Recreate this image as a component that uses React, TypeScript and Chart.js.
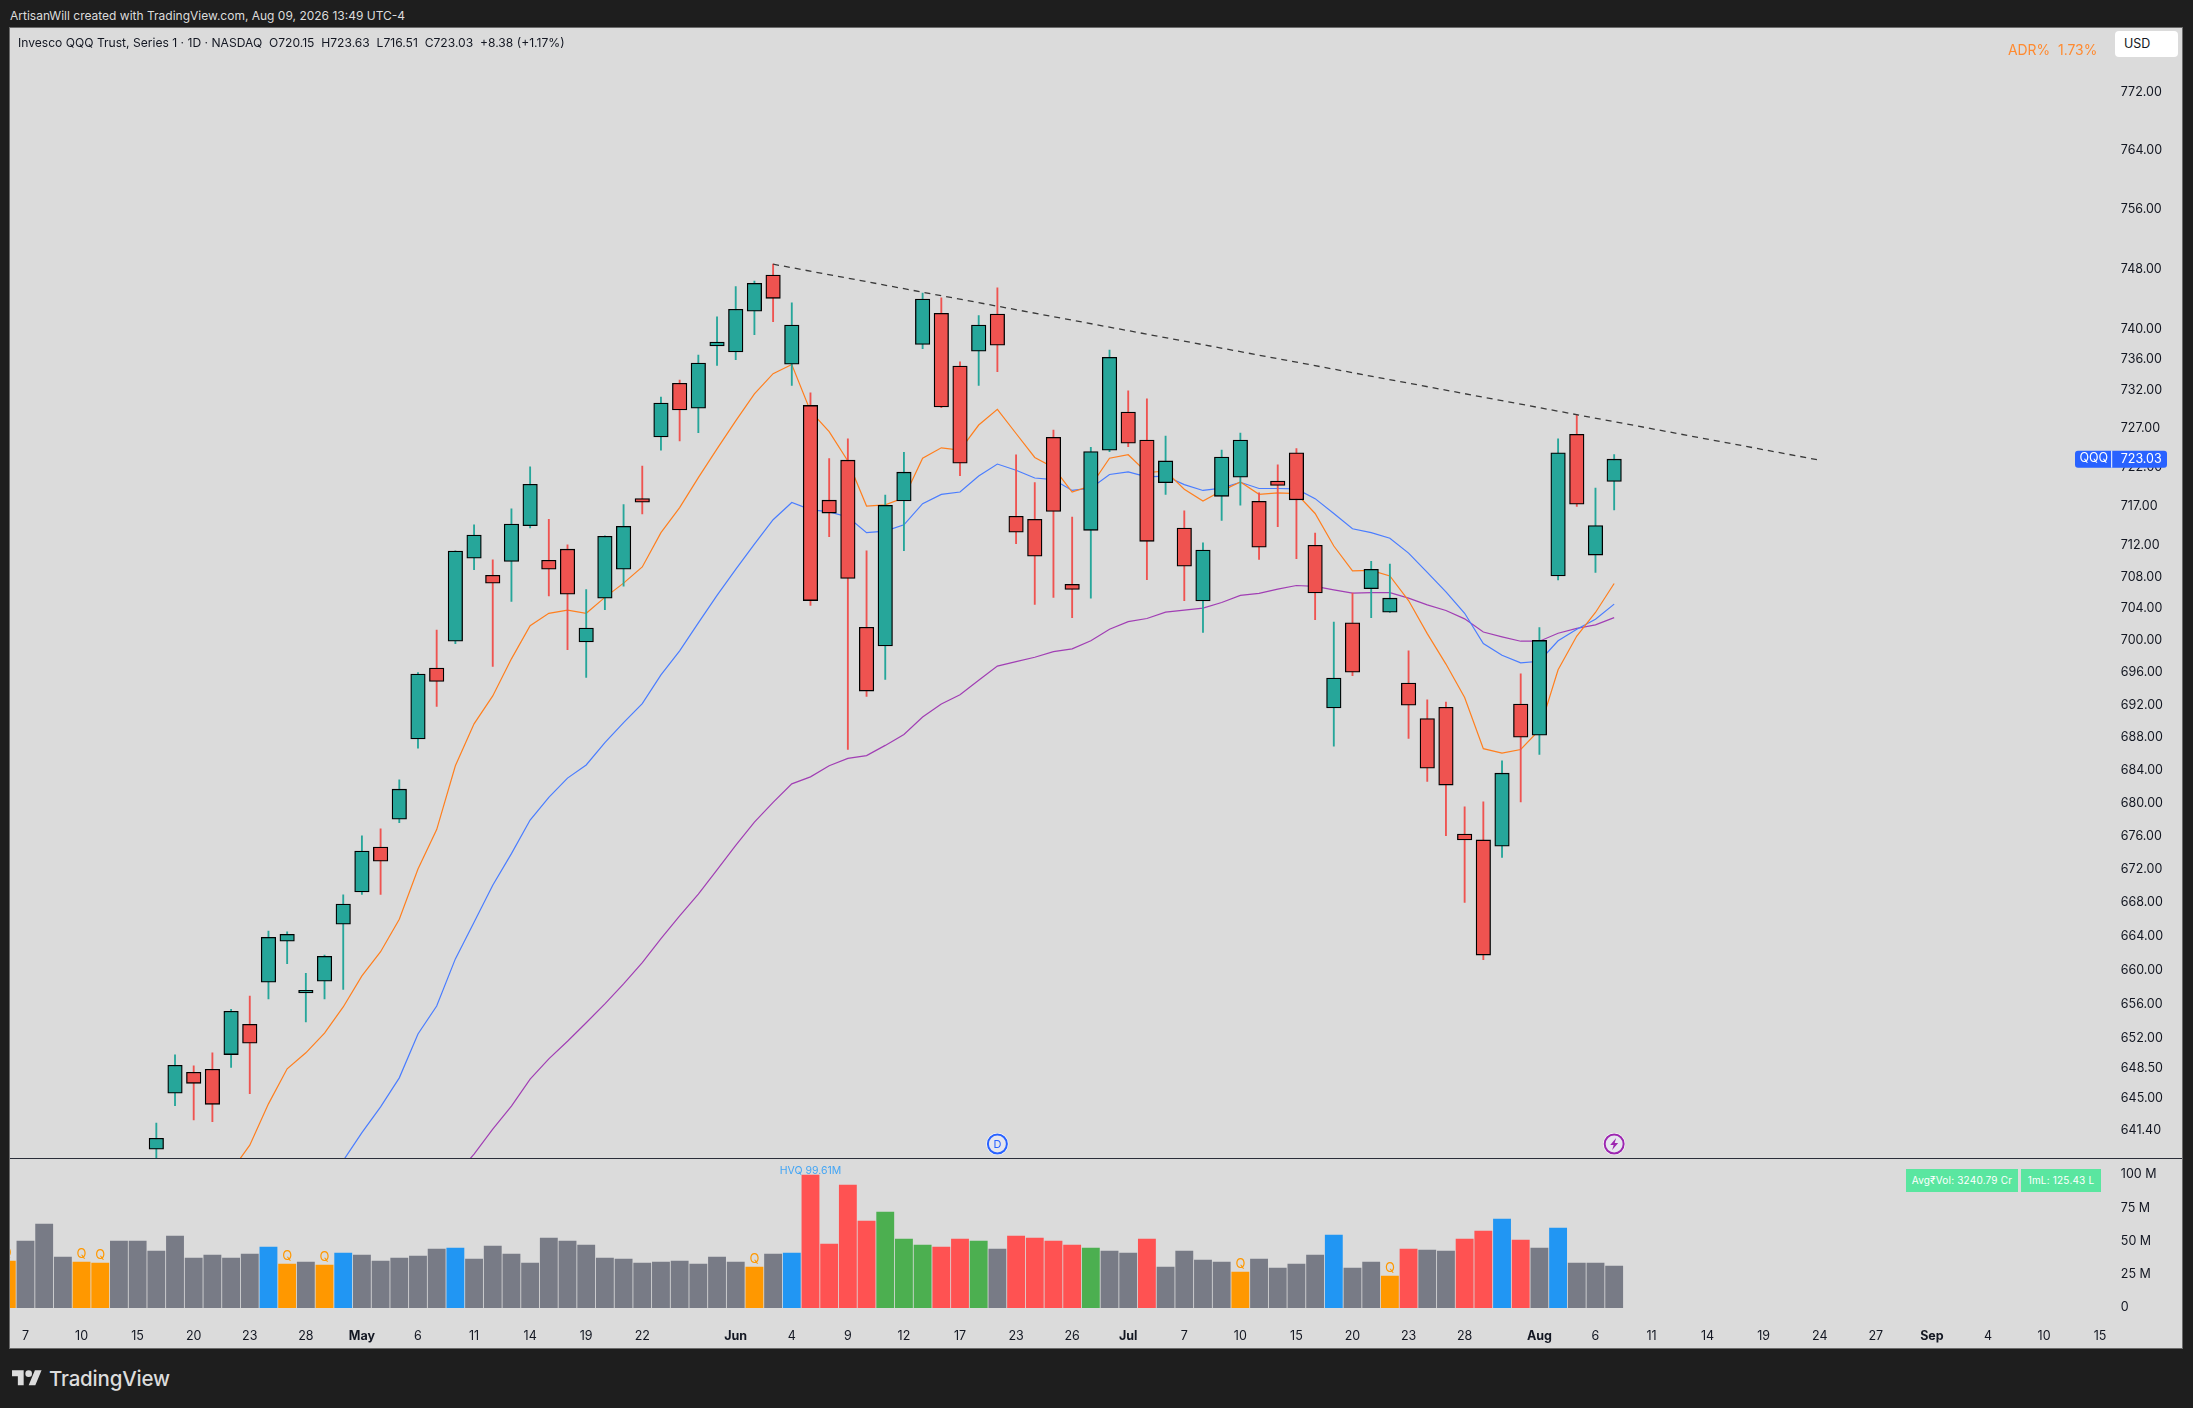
import { useEffect, useRef } from "react"
import { Chart, registerables } from "chart.js"

Chart.register(...registerables)

const dates = [
    'Apr 6', 'Apr 7', 'Apr 8', 'Apr 9', 'Apr 10', 'Apr 13', 'Apr 14', 'Apr 15', 'Apr 16', 'Apr 17', 'Apr 20', 'Apr 21', 'Apr 22', 'Apr 23', 'Apr 24', 'Apr 27', 'Apr 28', 'Apr 29', 'Apr 30',
    'May 1', 'May 4', 'May 5', 'May 6', 'May 7', 'May 8', 'May 11', 'May 12', 'May 13', 'May 14', 'May 15', 'May 18', 'May 19', 'May 20', 'May 21', 'May 22', 'May 26', 'May 27', 'May 28', 'May 29',
    'Jun 1', 'Jun 2', 'Jun 3', 'Jun 4', 'Jun 5', 'Jun 8', 'Jun 9', 'Jun 10', 'Jun 11', 'Jun 12', 'Jun 15', 'Jun 16', 'Jun 17', 'Jun 18', 'Jun 22', 'Jun 23', 'Jun 24', 'Jun 25', 'Jun 26', 'Jun 29', 'Jun 30',
    'Jul 1', 'Jul 2', 'Jul 6', 'Jul 7', 'Jul 8', 'Jul 9', 'Jul 10', 'Jul 13', 'Jul 14', 'Jul 15', 'Jul 16', 'Jul 17', 'Jul 20', 'Jul 21', 'Jul 22', 'Jul 23', 'Jul 24', 'Jul 27', 'Jul 28', 'Jul 29', 'Jul 30', 'Jul 31',
    'Aug 3', 'Aug 4', 'Aug 5', 'Aug 6', 'Aug 7', 'Aug 10', 'Aug 11', 'Aug 12', 'Aug 13', 'Aug 14', 'Aug 17', 'Aug 18', 'Aug 19', 'Aug 20', 'Aug 21', 'Aug 24', 'Aug 25', 'Aug 26', 'Aug 27', 'Aug 28', 'Aug 31',
    'Sep 1', 'Sep 2', 'Sep 3', 'Sep 4', 'Sep 8', 'Sep 9', 'Sep 10', 'Sep 11', 'Sep 14', 'Sep 15', 'Sep 16',
]

const tickDates = ['Apr 7', 'Apr 10', 'Apr 15', 'Apr 20', 'Apr 23', 'Apr 28', 'May 1', 'May 6', 'May 11', 'May 14', 'May 19', 'May 22', 'Jun 1', 'Jun 4', 'Jun 9', 'Jun 12', 'Jun 17', 'Jun 23', 'Jun 26', 'Jul 1', 'Jul 7', 'Jul 10', 'Jul 15', 'Jul 20', 'Jul 23', 'Jul 28', 'Aug 3', 'Aug 6', 'Aug 11', 'Aug 14', 'Aug 19', 'Aug 24', 'Aug 27', 'Sep 1', 'Sep 4', 'Sep 10', 'Sep 15']
const tickLabels = ['7', '10', '15', '20', '23', '28', 'May', '6', '11', '14', '19', '22', 'Jun', '4', '9', '12', '17', '23', '26', 'Jul', '7', '10', '15', '20', '23', '28', 'Aug', '6', '11', '14', '19', '24', '27', 'Sep', '4', '10', '15']
const monthLabels = ['May', 'Jun', 'Jul', 'Aug', 'Sep']

const priceTicks = [772, 764, 756, 748, 740, 736, 732, 727, 722, 717, 712, 708, 704, 700, 696, 692, 688, 684, 680, 676, 672, 668, 664, 660, 656, 652, 648.5, 645, 641.4]
const volumeTicks = [0, 25, 50, 75, 100]

// candles are visible from Apr 16 on, everything before sits under the pane
const firstCandle = 8
const opens = [639.2, 645.62, 648.05, 648.4, 650.1, 653.62, 658.55, 663.4, 657.3, 658.67, 665.4, 669.25, 674.64, 678, 687.8, 696.55, 699.9, 710.35, 708.2, 709.95, 714.5, 710.1, 711.5, 699.8, 705.3, 708.96, 717.95, 725.9, 732.9, 729.65, 737.8, 737, 742.4, 747.2, 735.4, 730, 717.75, 722.9, 701.65, 699.3, 717.65, 738, 742.1, 735.15, 737.1, 742, 715.7, 715.3, 725.85, 707.05, 713.9, 724.2, 729.15, 725.5, 720, 714.2, 704.95, 718.25, 720.7, 717.6, 720.2, 723.85, 712, 691.6, 702.2, 706.5, 703.55, 694.7, 690.3, 691.7, 676.2, 675.5, 674.75, 692.1, 688.25, 708.1, 726.25, 710.75, 720.15]
const closes = [640.46, 648.86, 646.77, 644.35, 655.15, 651.42, 663.85, 664.2, 657.6, 661.6, 667.8, 674.15, 672.95, 681.65, 695.8, 694.9, 711.25, 713.3, 707.2, 714.7, 719.8, 708.95, 705.8, 701.55, 713.15, 714.4, 717.5, 730.3, 729.4, 735.55, 738.3, 742.65, 746.1, 744.1, 740.55, 705, 716.1, 707.8, 693.7, 717.1, 721.35, 744, 729.8, 722.5, 740.55, 737.9, 713.65, 710.6, 716.3, 706.4, 724, 736.3, 725.1, 712.5, 722.8, 709.35, 711.4, 723.3, 725.5, 711.75, 719.65, 717.8, 705.95, 695.3, 696.05, 708.95, 705.3, 691.95, 684.2, 682.15, 675.5, 661.75, 683.6, 688, 700, 723.85, 717.25, 714.5, 723.03]
const highs = [642.2, 650.06, 648.78, 650.3, 655.38, 656.93, 664.6, 664.5, 659.6, 661.75, 668.9, 676, 676.85, 682.8, 696, 701.3, 711.3, 714.6, 710.15, 716.65, 722.05, 715.3, 712.05, 706.4, 713.2, 717.2, 722.15, 731.1, 733.3, 736.6, 741.65, 745.65, 746.4, 748.65, 743.5, 731.65, 723.1, 725.65, 711.3, 718.4, 723.9, 744.8, 744.15, 735.7, 741.8, 745.5, 723.6, 720, 726.8, 715.6, 724.55, 737.25, 731.9, 730.85, 726, 716.4, 712.3, 724.2, 726.4, 718.7, 722.3, 724.4, 713.55, 702.3, 705.95, 709.95, 709.6, 698.7, 692.6, 692.35, 679.5, 680.1, 685.1, 695.85, 701.6, 725.65, 728.8, 719.3, 723.63]
const lows = [637, 644.2, 642.55, 642.35, 648.6, 645.57, 656.6, 660.75, 653.9, 656.6, 657.7, 668.95, 668.95, 677.6, 686.65, 691.8, 699.6, 708.9, 696.75, 704.9, 714.2, 705.6, 698.85, 695.4, 703.85, 706.8, 716, 724.2, 725.4, 726.45, 735.25, 736, 739.3, 741, 732.6, 704.4, 713.1, 686.5, 693.05, 695.15, 711.3, 737.45, 729.7, 720.9, 732.6, 734.4, 712.2, 704.5, 705.4, 702.85, 705.3, 724, 724.65, 707.65, 718.5, 705, 701, 715.15, 717.1, 710.2, 714.35, 710.3, 702.6, 686.9, 695.6, 702.85, 703.5, 687.85, 682.6, 676, 668, 661.2, 673.4, 680.1, 685.9, 707.6, 716.95, 708.55, 716.51]

const firstOrange = 12
const orangeLine = [636.7, 639.66, 644.4, 648.45, 650.3, 652.6, 655.65, 659.3, 662.15, 666, 672, 676.75, 684.5, 689.65, 693.1, 697.7, 701.85, 703.4, 703.8, 703.4, 705.4, 707.2, 709.25, 713.6, 716.8, 720.65, 724.35, 728, 731.5, 734.15, 735.35, 729.25, 726.6, 722.8, 717, 717.15, 718.05, 723.15, 724.5, 724.2, 727.45, 729.5, 726.35, 723.25, 721.95, 718.8, 719.6, 723.15, 723.6, 721.3, 721.5, 719.15, 717.65, 718.95, 720.1, 718.5, 718.7, 718.6, 716.05, 711.9, 708.75, 708.8, 708.1, 705, 700.85, 697.05, 692.9, 686.6, 686.05, 686.5, 688.9, 696.35, 700.55, 703.5, 707.15]
const firstBlue = 18
const blueLine = [637.9, 641.1, 644.05, 647.4, 652.5, 655.75, 661.3, 665.65, 670.05, 673.85, 677.9, 680.65, 683, 684.6, 687.35, 689.8, 692.15, 695.7, 698.7, 702.2, 705.65, 708.95, 712.15, 715.25, 717.45, 716.55, 716.25, 715.6, 713.6, 713.8, 714.6, 717.3, 718.5, 718.8, 720.85, 722.4, 721.6, 720.6, 720.4, 719, 719.3, 721.05, 721.4, 720.75, 720.85, 719.75, 719, 719.3, 720.05, 719.25, 719.25, 719.2, 717.95, 716.05, 714.1, 713.6, 712.9, 711, 708.55, 706.1, 703.4, 699.6, 698.15, 697.2, 697.4, 699.95, 701.4, 702.65, 704.55]
const firstPurple = 24
const purpleLine = [636.15, 638.65, 641.5, 644.15, 647.25, 649.6, 651.65, 653.8, 656, 658.35, 660.85, 663.7, 666.4, 669, 671.9, 674.85, 677.65, 680.05, 682.3, 683.15, 684.5, 685.4, 685.75, 687, 688.35, 690.5, 692.1, 693.25, 695.05, 696.8, 697.35, 697.9, 698.6, 698.95, 699.95, 701.4, 702.35, 702.75, 703.55, 703.8, 704.05, 704.75, 705.65, 705.9, 706.45, 706.9, 706.8, 706.35, 705.95, 706, 706, 705.3, 704.45, 703.75, 702.7, 701.05, 700.45, 699.9, 699.9, 700.9, 701.5, 701.95, 702.85]

const trendDates = ['Jun 3', 'Aug 24']
const trendValues = [748.65, 722.9]

const volumes = [35, 50, 62.75, 38, 34.25, 33.5, 50, 50, 42.5, 53.75, 37.25, 39.5, 37.25, 40.25, 45.5, 32.75, 34.25, 32, 41, 39.5, 35, 37.25, 38.75, 44, 44.75, 36.5, 46.25, 40.25, 33.5, 52.25, 50, 47, 37.25, 36.5, 33.5, 34.25, 35, 32.75, 38, 34.25, 30.5, 40.25, 41, 99.61, 47.75, 92, 65, 71.75, 51.5, 47, 45.5, 51.5, 50, 44, 53.75, 52.25, 50, 47, 44.75, 42.5, 41, 51.5, 30.5, 42.5, 35.75, 34.25, 26.75, 36.5, 29.75, 32.75, 39.5, 54.5, 29.75, 34.25, 23.75, 44, 43.25, 42.5, 51.5, 57.5, 66.5, 50.75, 44.75, 59.75, 33.5, 33.5, 31.25]
// o quiet (Q), v plain, b blue, r down on volume, n up on volume
const volumeKinds = ['o', 'v', 'v', 'v', 'o', 'o', 'v', 'v', 'v', 'v', 'v', 'v', 'v', 'v', 'b', 'o', 'v', 'o', 'b', 'v', 'v', 'v', 'v', 'v', 'b', 'v', 'v', 'v', 'v', 'v', 'v', 'v', 'v', 'v', 'v', 'v', 'v', 'v', 'v', 'v', 'o', 'v', 'b', 'r', 'r', 'r', 'r', 'n', 'n', 'n', 'r', 'r', 'n', 'v', 'r', 'r', 'r', 'r', 'n', 'v', 'v', 'r', 'v', 'v', 'v', 'v', 'o', 'v', 'v', 'v', 'v', 'b', 'v', 'v', 'o', 'r', 'v', 'v', 'r', 'r', 'b', 'r', 'v', 'b', 'v', 'v', 'v']

const lastClose = 723.03
const hvqDate = 'Jun 4'
const dividendDate = 'Jun 22'
const earningsDate = 'Aug 7'

const TICK_FONT = 'Inter'
const INK = '#131722'
const kindColors: Record<string, string> = { o: '#FF9800', v: '#787B86', b: '#2196F3', r: '#FF5252', n: '#4CAF50' }

const fromIndex = (list: number[], first: number) => dates.map((_, i) => list[i - first] ?? null)
const upColor = (i: number, up: string, down: string) => closes[i] >= opens[i] ? up : down
const candleColors = dates.map((_, i) => i < firstCandle ? '#00000000' : upColor(i - firstCandle, '#26A69A', '#EF5350'))

// keeps the axes from shrinking the plot area for half a label height
const noAxisPadding = (scale: any) => {
    scale.paddingTop = 0
    scale.paddingBottom = 0
    scale.paddingLeft = 0
    scale.paddingRight = 0
}

const pricePlugin = {
    id: 'priceMarks',
    afterDraw(chart: any) {
        const { ctx, scales } = chart
        const y = scales.y.getPixelForValue(lastClose)
        ctx.save()
        // last price tag
        ctx.fillStyle = '#2962FF'
        ctx.beginPath()
        ctx.roundRect(2075, y - 8.5, 92, 17, 3)
        ctx.fill()
        ctx.fillStyle = '#ffffff'
        ctx.fillRect(2111.2, y - 8.5, 1, 17)
        ctx.font = `12.5px ${TICK_FONT}`
        ctx.textBaseline = 'middle'
        ctx.textAlign = 'left'
        ctx.fillText('QQQ', 2079.5, y - 0.5)
        ctx.fillText(lastClose.toFixed(2), 2120.7, y + 0.5)
        // dividend and earnings markers
        const markY = 1116
        const dx = scales.x.getPixelForValue(dates.indexOf(dividendDate))
        const ex = scales.x.getPixelForValue(dates.indexOf(earningsDate))
        for (const [x, color] of [[dx, '#2962FF'], [ex, '#9C27B0']] as [number, string][]) {
            ctx.beginPath()
            ctx.arc(x, markY, 11, 0, Math.PI * 2)
            ctx.fillStyle = '#ffffff'
            ctx.fill()
            ctx.beginPath()
            ctx.arc(x, markY, 9.5, 0, Math.PI * 2)
            ctx.fillStyle = '#e6e6ee'
            ctx.fill()
            ctx.lineWidth = 2
            ctx.strokeStyle = color
            ctx.stroke()
        }
        ctx.fillStyle = '#2962FF'
        ctx.font = `11px ${TICK_FONT}`
        ctx.textAlign = 'center'
        ctx.fillText('D', dx, markY + 0.5)
        ctx.fillStyle = '#9C27B0'
        ctx.beginPath()
        ctx.moveTo(ex + 2, markY - 6)
        ctx.lineTo(ex - 4, markY + 1)
        ctx.lineTo(ex - 0.5, markY + 1)
        ctx.lineTo(ex - 2, markY + 6)
        ctx.lineTo(ex + 4, markY - 1)
        ctx.lineTo(ex + 0.5, markY - 1)
        ctx.closePath()
        ctx.fill()
        ctx.restore()
    },
}

const volumePlugin = {
    id: 'volumeMarks',
    afterDatasetsDraw(chart: any) {
        const { ctx, scales } = chart
        ctx.save()
        ctx.beginPath()
        ctx.rect(chart.chartArea.left, 0, chart.width, chart.height)
        ctx.clip()
        ctx.textAlign = 'center'
        ctx.textBaseline = 'bottom'
        ctx.font = `13px ${TICK_FONT}`
        ctx.fillStyle = '#FF9800'
        volumes.forEach((v, i) => {
            if (volumeKinds[i] !== 'o') return
            ctx.fillText('Q', scales.x.getPixelForValue(i), scales.y.getPixelForValue(v) - 1)
        })
        ctx.font = `10.5px ${TICK_FONT}`
        ctx.fillStyle = '#42A5F5'
        const h = dates.indexOf(hvqDate) + 1
        ctx.fillText('HVQ 99.61M', scales.x.getPixelForValue(h), scales.y.getPixelForValue(volumes[h]) + 1)
        ctx.restore()
    },
}

function PriceChart() {
    const canvasRef = useRef<HTMLCanvasElement>(null)
    useEffect(() => {
        const ctx = canvasRef.current
        if (ctx == null) return
        const chart = new Chart(ctx, {
            type: 'bar',
            data: {
                labels: dates,
                datasets: [
                    {
                        type: 'line',
                        data: dates.map(d => trendDates.includes(d) ? trendValues[trendDates.indexOf(d)] : null),
                        spanGaps: true,
                        borderColor: '#3a3a3a',
                        borderWidth: 1.3,
                        borderDash: [6, 5],
                        pointRadius: 0,
                        order: 0,
                    },
                    {
                        data: fromIndex(opens, firstCandle).map((o, i) => o == null ? null : [opens[i - firstCandle], closes[i - firstCandle]]),
                        backgroundColor: candleColors,
                        borderColor: '#000000',
                        borderWidth: 1.3,
                        borderSkipped: false,
                        barThickness: 14.5,
                        grouped: false,
                        order: 1,
                    },
                    {
                        data: fromIndex(lows, firstCandle).map((l, i) => l == null ? null : [lows[i - firstCandle], highs[i - firstCandle]]),
                        backgroundColor: candleColors,
                        barThickness: 1.2,
                        grouped: false,
                        order: 2,
                    },
                    { type: 'line', data: fromIndex(orangeLine, firstOrange), borderColor: '#FF7F1E', borderWidth: 1.2, pointRadius: 0, order: 3 },
                    { type: 'line', data: fromIndex(blueLine, firstBlue), borderColor: '#4A7DFF', borderWidth: 1.2, pointRadius: 0, order: 4 },
                    { type: 'line', data: fromIndex(purpleLine, firstPurple), borderColor: '#A13FB4', borderWidth: 1.2, pointRadius: 0, order: 5 },
                ] as any,
            },
            options: {
                responsive: false,
                animation: false,
                devicePixelRatio: 1,
                layout: { padding: { left: 6.8, top: 0, bottom: 0, right: 0 }, autoPadding: false },
                plugins: { legend: { display: false }, tooltip: { enabled: false } },
                scales: {
                    x: { display: false, offset: false, grid: { display: false } },
                    y: {
                        type: 'logarithmic',
                        position: 'right',
                        min: 638.2,
                        max: 780.9,
                        border: { display: false },
                        grid: { display: false, drawTicks: false },
                        afterBuildTicks: (scale: any) => { scale.ticks = priceTicks.map(value => ({ value })) },
                        afterFit: (scale: any) => { scale.width = 63.2; noAxisPadding(scale) },
                        ticks: {
                            autoSkip: false,
                            padding: 2,
                            color: INK,
                            font: { family: TICK_FONT, size: 12.5 },
                            callback: (v: any) => Number(v).toFixed(2),
                        },
                    },
                },
            } as any,
            plugins: [pricePlugin],
        })
        return () => chart.destroy()
    }, [canvasRef])
    return <canvas ref={canvasRef} width={2182} height={1130} style={{ position: 'absolute', left: -10, top: 0 }} />
}

function VolumeChart() {
    const canvasRef = useRef<HTMLCanvasElement>(null)
    useEffect(() => {
        const ctx = canvasRef.current
        if (ctx == null) return
        const chart = new Chart(ctx, {
            type: 'bar',
            data: {
                labels: dates,
                datasets: [{
                    data: fromIndex(volumes, 0),
                    backgroundColor: volumeKinds.map(k => kindColors[k]),
                    barThickness: 17.2,
                }],
            },
            options: {
                responsive: false,
                animation: false,
                devicePixelRatio: 1,
                layout: { padding: { left: 6.8, top: 0, bottom: 0, right: 0 }, autoPadding: false },
                plugins: { legend: { display: false }, tooltip: { enabled: false } },
                scales: {
                    x: {
                        offset: false,
                        grid: { display: false, drawTicks: false },
                        border: { display: false },
                        afterBuildTicks: (scale: any) => { scale.ticks = tickDates.map(d => ({ value: dates.indexOf(d) })) },
                        afterFit: (scale: any) => { scale.height = 29; noAxisPadding(scale) },
                        ticks: {
                            autoSkip: false,
                            maxRotation: 0,
                            padding: 10,
                            color: INK,
                            font: (c: any) => ({ family: TICK_FONT, size: 12.5, weight: monthLabels.includes(c.tick?.label) ? '700' : '400' }),
                            callback: (_: any, i: number) => tickLabels[i],
                        },
                    },
                    y: {
                        position: 'right',
                        min: -8.5,
                        max: 111.6,
                        border: { display: false },
                        grid: { display: false, drawTicks: false },
                        afterBuildTicks: (scale: any) => { scale.ticks = volumeTicks.map(value => ({ value })) },
                        afterFit: (scale: any) => { scale.width = 63.2; noAxisPadding(scale) },
                        ticks: {
                            autoSkip: false,
                            padding: 2,
                            color: INK,
                            font: { family: TICK_FONT, size: 12.5 },
                            callback: (v: any) => v === 0 ? '0' : `${v} M`,
                        },
                    },
                },
            } as any,
            plugins: [volumePlugin],
        })
        return () => chart.destroy()
    }, [canvasRef])
    return <canvas ref={canvasRef} width={2182} height={189} style={{ position: 'absolute', left: -10, top: 1131 }} />
}

export default function App() {
    const font = 'Inter, sans-serif'
    const tag = { position: 'absolute', top: 1141, height: 23, lineHeight: '23px', background: '#5AE6A0', color: '#ffffff', fontSize: 10, letterSpacing: 0.2, textAlign: 'center' } as const
    return (
        <div style={{ position: 'fixed', inset: 0, background: '#1e1e1e', overflow: 'hidden', fontFamily: font }}>
            <div style={{ position: 'absolute', left: 10, top: 7, color: '#dcdcdc', fontSize: 12, lineHeight: '18px', whiteSpace: 'nowrap' }}>
                ArtisanWill created with TradingView.com, Aug 09, 2026 13:49 UTC-4
            </div>
            <div style={{ position: 'absolute', left: 9, top: 27, width: 2174, height: 1322, boxSizing: 'border-box', border: '1px solid #6b6b6b', background: '#dbdbdb', overflow: 'hidden' }}>
                <PriceChart />
                <VolumeChart />
                <div style={{ position: 'absolute', left: 0, right: 0, top: 1129.6, height: 1.4, background: '#2a2e39' }} />
                <div style={{ position: 'absolute', left: 8, top: 6, color: INK, fontSize: 12.1, lineHeight: '18px', whiteSpace: 'pre' }}>
                    {'Invesco QQQ Trust, Series 1 · 1D · NASDAQ  O720.15  H723.63  L716.51  C723.03  +8.38 (+1.17%)'}
                </div>
                <div style={{ position: 'absolute', left: 1998, top: 13, color: '#FF8A30', fontSize: 13.9, lineHeight: '18px', whiteSpace: 'pre' }}>
                    {'ADR%  1.73%'}
                </div>
                <div style={{ position: 'absolute', left: 2105, top: 3, width: 63, height: 26, boxSizing: 'border-box', background: '#ffffff', borderRadius: 4, color: INK, fontSize: 12.5, lineHeight: '26px', paddingLeft: 9 }}>
                    USD
                </div>
                <div style={{ ...tag, left: 1896, width: 112 }}>Avg₹Vol: 3240.79 Cr</div>
                <div style={{ ...tag, left: 2011, width: 80 }}>1mL: 125.43 L</div>
            </div>
            <svg width={30} height={23.3} viewBox="0 0 36 28" style={{ position: 'absolute', left: 12, top: 1366.7 }} fill="#dcdcdc">
                <path d="M14 22H7V11H0V4h14v18zM28 22h-8l7.5-18h8L28 22z" />
                <circle cx="20" cy="8" r="4" />
            </svg>
            <div style={{ position: 'absolute', left: 49, top: 1365, color: '#dcdcdc', fontSize: 20.5, fontWeight: 500, lineHeight: '28px', letterSpacing: -0.2 }}>TradingView</div>
        </div>
    )
}
